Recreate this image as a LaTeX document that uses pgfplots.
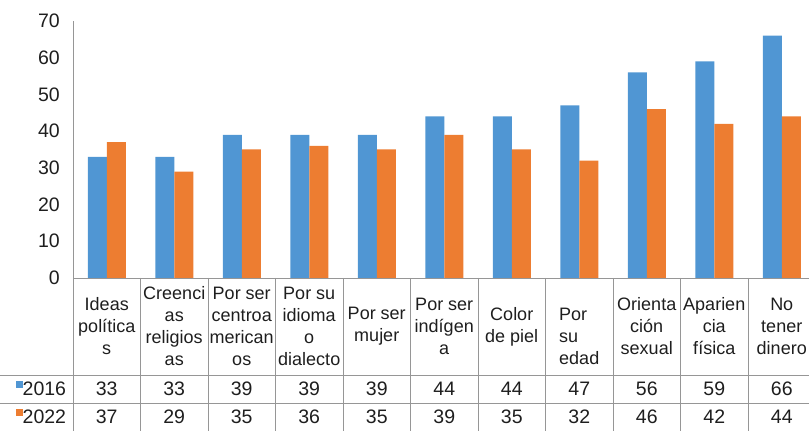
\documentclass[border=0pt]{standalone}
\usepackage{fontspec}
\setmainfont{Liberation Sans}
\usepackage{pgfplots}
\usepackage{pgfplotstable}
\pgfplotsset{compat=1.18}
\definecolor{cblue}{RGB}{80,150,211}
\definecolor{corange}{RGB}{237,125,49}
\definecolor{gl}{RGB}{150,150,150}
\definecolor{tx}{RGB}{30,30,30}
\pgfplotstableread{
x y2016 y2022
0 33 37
1 33 29
2 39 35
3 39 36
4 39 35
5 44 39
6 44 35
7 47 32
8 56 46
9 59 42
10 66 44
}\datatable
\begin{document}
\begin{tikzpicture}
\useasboundingbox (0,0) rectangle (809pt,431pt);
\begin{axis}[
 at={(73pt,153pt)}, anchor=south west,
 scale only axis, width=735.75pt, height=257pt,
 xmin=-0.5, xmax=10.4, ymin=0, ymax=70,
 axis x line*=bottom, axis y line*=left,
 axis line style={gl, line width=0.8pt},
 major tick length=0pt,
 ytick={0,10,...,70},
 xtick={0,...,10},
 xticklabels={{Ideas\\política\\s},{Creenci\\as\\religios\\as},{Por ser\\centroa\\merican\\os},{Por su\\idioma\\o\\dialecto},{Por ser\\mujer},{Por ser\\indígen\\a},{Color\\de piel},{\raisebox{-12pt}[\height][\depth]{\begin{tabular}{@{}l@{}}Por\\su\\edad\end{tabular}}},{Orienta\\ción\\sexual},{Aparien\\cia\\física},{No\\tener\\dinero}},
 xticklabel style={anchor=center, yshift=-48.5pt, align=center, font=\fontsize{18}{22}\selectfont, text=tx, inner sep=0pt},
 yticklabel style={anchor=east, font=\fontsize{19.5}{22}\selectfont, text=tx, inner sep=0pt, xshift=-13pt},
 /pgf/number format/assume math mode=true,
 clip=false,
]
\addplot[ybar, bar width=19pt, bar shift=-9.5pt, fill=cblue, draw=none] table[x=x,y=y2016]{\datatable};
\addplot[ybar, bar width=19pt, bar shift=9.5pt, fill=corange, draw=none] table[x=x,y=y2022]{\datatable};
\addplot[draw=none, mark=none, nodes near coords, point meta=explicit,
  every node near coord/.append style={anchor=center, yshift=-111pt, font=\fontsize{19.5}{22}\selectfont, text=tx, inner sep=0pt}]
  table[x=x, y expr=0, meta=y2016]{\datatable};
\addplot[draw=none, mark=none, nodes near coords, point meta=explicit,
  every node near coord/.append style={anchor=center, yshift=-139pt, font=\fontsize{19.5}{22}\selectfont, text=tx, inner sep=0pt}]
  table[x=x, y expr=0, meta=y2022]{\datatable};
\end{axis}
\draw[gl, line width=0.8pt] (0,56pt) -- (809pt,56pt);
\draw[gl, line width=0.8pt] (0,28pt) -- (809pt,28pt);
\foreach \k in {0,...,10} {
  \draw[gl, line width=0.8pt] ({(73+67.5*\k)*1pt},153pt) -- ({(73+67.5*\k)*1pt},0pt);
}
\fill[cblue] (16pt,43pt) rectangle (22.5pt,49.5pt);
\node[anchor=west, inner sep=0pt, font=\fontsize{19.5}{22}\selectfont, text=tx] at (22.5pt,42pt) {2016};
\fill[corange] (16pt,15pt) rectangle (22.5pt,21.5pt);
\node[anchor=west, inner sep=0pt, font=\fontsize{19.5}{22}\selectfont, text=tx] at (22.5pt,14pt) {2022};
\end{tikzpicture}
\end{document}
